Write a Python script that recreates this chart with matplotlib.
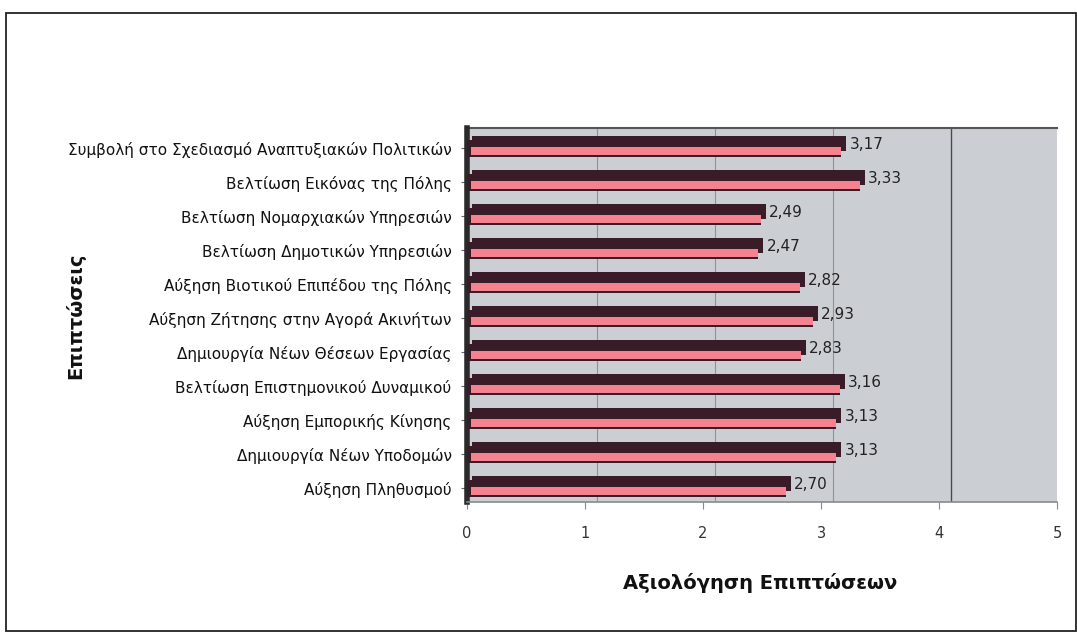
import matplotlib
matplotlib.use("Agg")
import matplotlib.pyplot as plt
import matplotlib.transforms as mtransforms
from matplotlib.patches import Rectangle

plt.rcParams['font.family'] = ['DejaVu Sans']

categories = [
    "Αύξηση Πληθυσμού",
    "Δημιουργία Νέων Υποδομών",
    "Αύξηση Εμπορικής Κίνησης",
    "Βελτίωση Επιστημονικού Δυναμικού",
    "Δημιουργία Νέων Θέσεων Εργασίας",
    "Αύξηση Ζήτησης στην Αγορά Ακινήτων",
    "Αύξηση Βιοτικού Επιπέδου της Πόλης",
    "Βελτίωση Δημοτικών Υπηρεσιών",
    "Βελτίωση Νομαρχιακών Υπηρεσιών",
    "Βελτίωση Εικόνας της Πόλης",
    "Συμβολή στο Σχεδιασμό Αναπτυξιακών Πολιτικών",
]
values = [2.70, 3.13, 3.13, 3.16, 2.83, 2.93, 2.82, 2.47, 2.49, 3.33, 3.17]
xticks = [0, 1, 2, 3, 4, 5]
xlabel = "Αξιολόγηση Επιπτώσεων"
ylabel = "Επιπτώσεις"

W, H = 1077, 632
fig = plt.figure(figsize=(W / 100, H / 100), dpi=100)
fig.patch.set_facecolor('white')

ax = fig.add_axes([467 / W, 1 - 502 / H, (1057 - 467) / W, (502 - 128) / H])
ax.set_facecolor('#cbcfd4')
ax.set_xlim(0, 5)
ax.set_ylim(-0.4, 10.6)

ypos = list(range(len(categories)))

# back-wall gridlines (offset for 3D look)
blend = mtransforms.blended_transform_factory(ax.transData, ax.transAxes)
grid_tr = blend + mtransforms.ScaledTranslation(12 / 100, 0, fig.dpi_scale_trans)
for t in xticks[1:-1]:
    ax.plot([t, t], [0, 1], color='#4a4a4a' if t == 4 else '#8e9299',
            lw=1.0 if t == 4 else 0.8, transform=grid_tr, zorder=1)

# 3D top of bars (shifted up/right)
top_tr = mtransforms.offset_copy(ax.transData, fig=fig, x=5, y=5, units='dots')
ax.barh(ypos, values, height=0.45, color='#3a1c29', transform=top_tr, zorder=2)
# front face dark
ax.barh(ypos, values, height=0.48, color='#3a1c29', zorder=3)
# pink front stripe
ax.barh([y - 0.07 for y in ypos], [v - 0.03 for v in values], left=0.03, height=0.22,
        color='#f4838f', zorder=4)

for y, v in zip(ypos, values):
    ax.annotate(f"{v:.2f}".replace('.', ','), xy=(v, y), xytext=(6, 2.5),
                textcoords='offset points', ha='left', va='center',
                fontsize=11, color='#222222', zorder=5)

ax.set_yticks(ypos)
ax.set_yticklabels(categories, fontsize=11, color='#111111')
ax.set_xticks(xticks)
ax.set_xticklabels([str(t) for t in xticks], fontsize=10.5, color='#333333')
ax.tick_params(axis='y', length=4, color='#666666', pad=7)
ax.tick_params(axis='x', length=5, color='#888888', pad=12)

for s in ['top', 'right']:
    ax.spines[s].set_visible(False)
ax.spines['left'].set_color('#2a2a2a')
ax.spines['left'].set_linewidth(4)
ax.spines['bottom'].set_color('#8a8a8a')
ax.spines['bottom'].set_linewidth(1.2)
# top edge of back wall
ax.plot([0, 1], [1, 1], transform=ax.transAxes, color='#555555', lw=1.5, clip_on=False)

fig.text(760 / W, 1 - 583 / H, xlabel, fontsize=14, fontweight='bold',
         ha='center', va='center', color='#111111')
fig.text(75 / W, 1 - 316 / H, ylabel, fontsize=14, fontweight='bold',
         ha='center', va='center', rotation=90, color='#111111')

border = Rectangle((6 / W, 0.002), 1 - 7 / W, 1 - 13 / H - 0.002, transform=fig.transFigure,
                   fill=False, edgecolor='#222222', lw=1.3)
fig.patches.append(border)

fig.savefig('out.png', dpi=100)
